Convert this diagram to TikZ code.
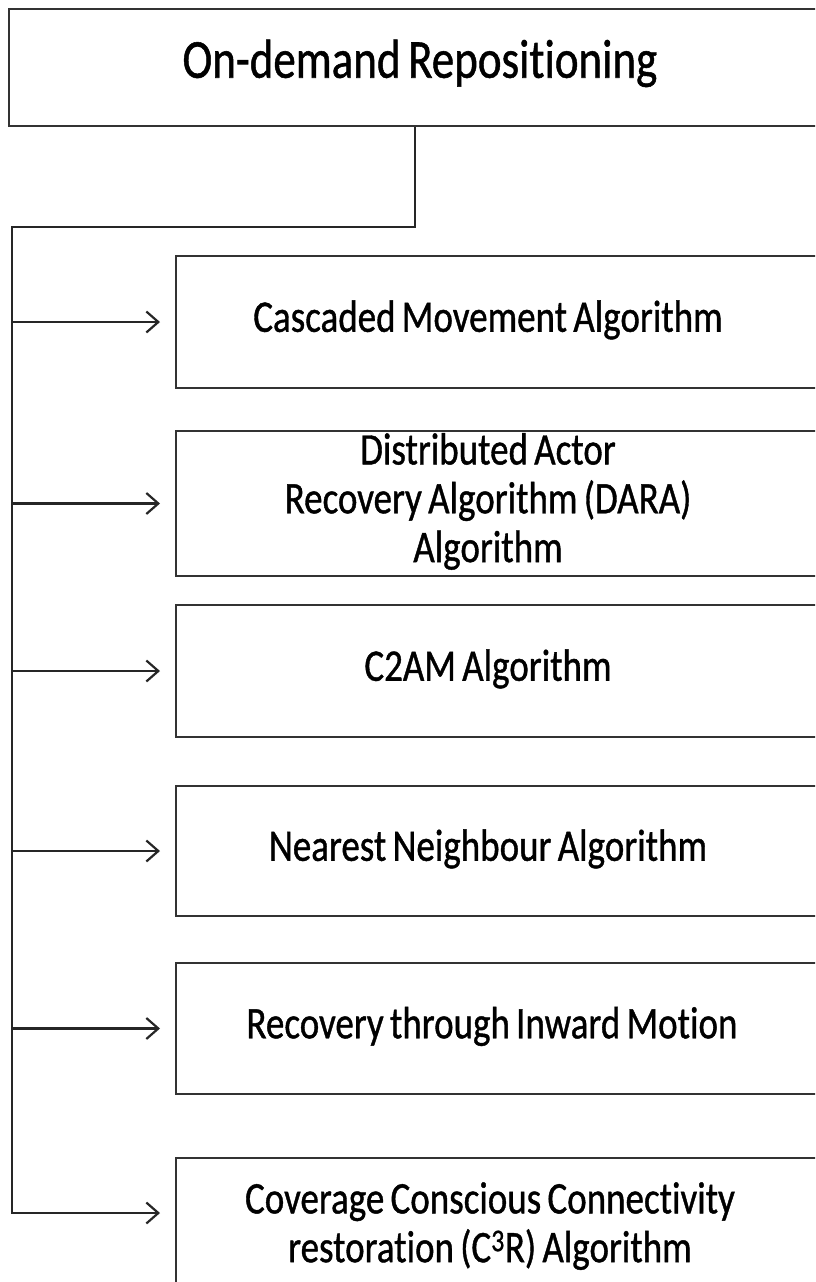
\documentclass[tikz,border=0pt]{standalone}
\usepackage{fontspec}
\setmainfont{Carlito}[Ligatures=NoCommon, FakeBold=1, WordSpace=0.75]
\usetikzlibrary{arrows.meta}
% tall, slightly narrow lettering used in every box
\newcommand\tallText[1]{\scalebox{1}[1.22]{\begin{tabular}{@{}c@{}}#1\end{tabular}}}
\begin{document}
\begin{tikzpicture}[x=1pt,y=-1pt,
  frame/.style={draw=black!80, line width=2pt, rectangle, inner sep=0pt},
  link/.style={draw=black!85, line width=2.2pt},
  arr/.style={link, -{Straight Barb[length=12pt,width=21pt,line width=2.2pt]}, shorten >=15pt},
  title/.style={font=\fontsize{45}{40}\selectfont, inner sep=0pt},
  lbl/.style={font=\fontsize{37}{40}\selectfont, inner sep=0pt}]
\useasboundingbox (0,0) rectangle (815,1282);
\clip (0,0) rectangle (815,1282);
\fill[white] (0,0) rectangle (815,1282);

% header box and the six method boxes (they run past the right edge)
\node[frame, anchor=north west, minimum width=900pt, minimum height=117pt] (top) at (8,8) {};
\node[frame, anchor=north west, minimum width=700pt, minimum height=132pt] (b1) at (175,255) {};
\node[frame, anchor=north west, minimum width=700pt, minimum height=145pt] (b2) at (175,430) {};
\node[frame, anchor=north west, minimum width=700pt, minimum height=132pt] (b3) at (175,604) {};
\node[frame, anchor=north west, minimum width=700pt, minimum height=130pt] (b4) at (175,785) {};
\node[frame, anchor=north west, minimum width=700pt, minimum height=131pt] (b5) at (175,962) {};
\node[frame, anchor=north west, minimum width=700pt, minimum height=150pt] (b6) at (175,1157) {};

% texts
\node[title] (t0) at (420,66) {\tallText{On-demand Repositioning}};
\node[lbl] (t1) at (b1.center -| 488,0) {\tallText{Cascaded Movement Algorithm}};
\node[lbl] (t2) at (b2.center -| 488,0) {\tallText{Distributed Actor\\Recovery Algorithm (DARA)\\Algorithm}};
\node[lbl] (t3) at (b3.center -| 488,0) {\tallText{C2AM Algorithm}};
\node[lbl] (t4) at (b4.center -| 488,0) {\tallText{Nearest Neighbour Algorithm}};
\node[lbl] (t5) at (b5.center -| 492,0) {\tallText{Recovery through Inward Motion}};
\node[lbl] (t6) at (490,1228) {\tallText{Coverage Conscious Connectivity\\restoration (C\textsuperscript{3}R) Algorithm}};

% connector tree
\coordinate (drop) at (415,227);
\coordinate (corner) at (12,227);
\coordinate (foot) at (12,1213);
\draw[arr] (top.south -| drop) -- (drop) -- (corner) -- (foot) -- (foot -| b6.west);
\foreach \b in {b1,b2,b3,b4,b5}
  \draw[arr] (corner |- \b.west) -- (\b.west);
\end{tikzpicture}
\end{document}
